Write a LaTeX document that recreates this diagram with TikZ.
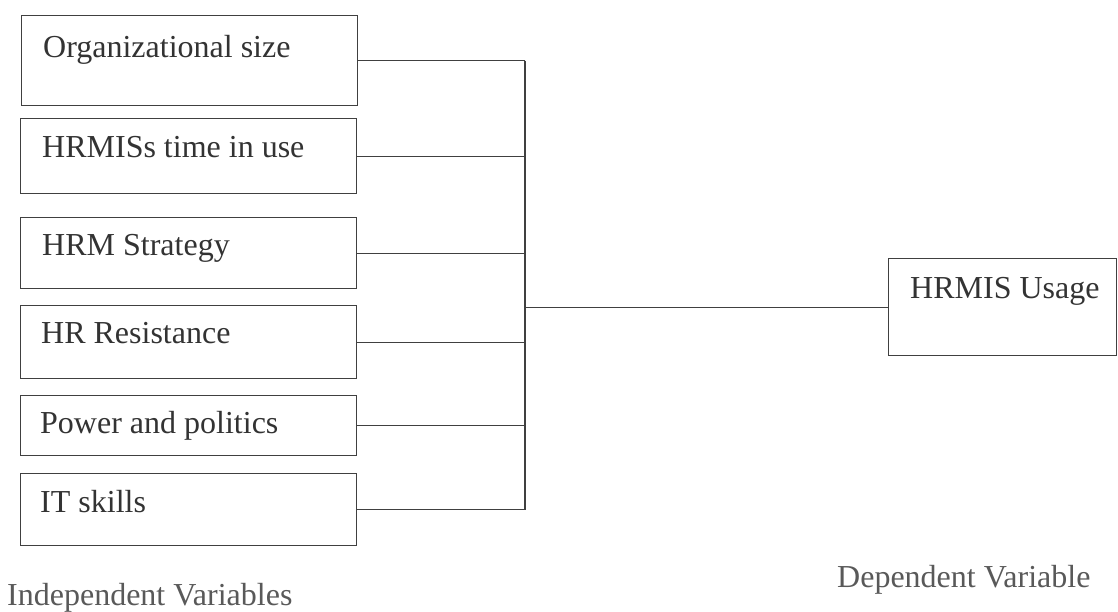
\documentclass[tikz,border=0pt]{standalone}
\usepackage{fontspec}
\setmainfont{Liberation Serif}
\begin{document}
\begin{tikzpicture}[x=1pt,y=-1pt,
  line/.style={draw=black!75,line width=1.3pt},
  varbox/.style={line,rectangle,inner sep=0pt,minimum width=336pt,anchor=north west},
  lbl/.style={anchor=base west,inner sep=0pt,text=black!80,font=\fontsize{32}{38}\selectfont},
  captext/.style={anchor=base west,inner sep=0pt,text=black!65,font=\fontsize{32}{38}\selectfont}]
\useasboundingbox[fill=white] (0,0) rectangle (1118,611);
% independent variable boxes
\node[varbox,minimum height=90pt] (b1) at (21,15) {};
\node[varbox,minimum height=75pt] (b2) at (20,118) {};
\node[varbox,minimum height=71pt] (b3) at (20,217) {};
\node[varbox,minimum height=73pt] (b4) at (20,305) {};
\node[varbox,minimum height=60pt] (b5) at (20,395) {};
\node[varbox,minimum height=72pt] (b6) at (20,473) {};
\node[lbl] (t1) at (43,57) {Organizational size};
\node[lbl] (t2) at (42,157) {HRMISs time in use};
\node[lbl] (t3) at (42,255) {HRM Strategy};
\node[lbl] (t4) at (41,343) {HR Resistance};
\node[lbl] (t5) at (40,433) {Power and politics};
\node[lbl] (t6) at (40,512) {IT skills};
% dependent variable box
\node[line,rectangle,inner sep=0pt,minimum width=228pt,minimum height=97pt,anchor=north west] (usage) at (888,258) {};
\node[lbl] (tu) at (910,298) {HRMIS Usage};
% captions
\node[captext] (ind) at (7,605) {Independent Variables};
\node[captext] (dep) at (837,587) {Dependent Variable};
% connectors
\coordinate (bt) at (525,60);
\foreach \b in {b1,b2,b3,b4,b5,b6} {
  \draw[line] (\b.east) -- (\b.east -| bt);
}
\draw[line] (b1.east -| bt) -- (b6.east -| bt);
\draw[line] (usage.west) -- (usage.west -| bt);
\end{tikzpicture}
\end{document}
